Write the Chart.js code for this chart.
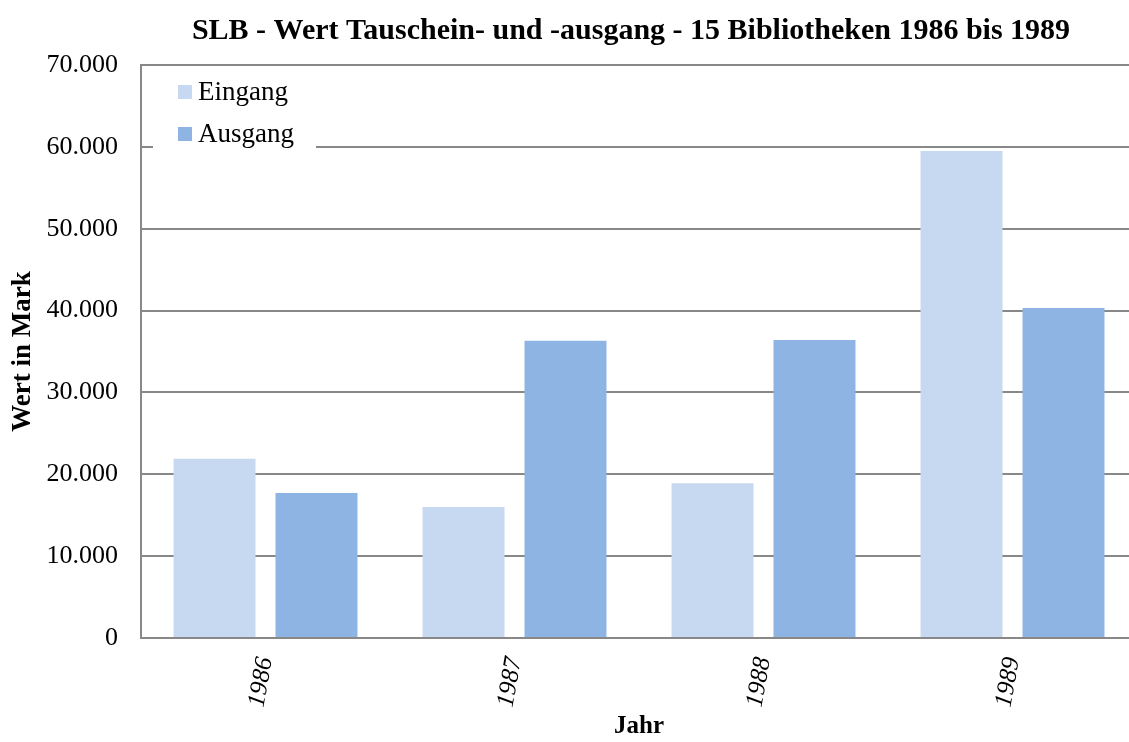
<!DOCTYPE html>
<html><head><meta charset="utf-8">
<script src="https://cdn.jsdelivr.net/npm/chart.js@4/dist/chart.umd.min.js"></script>
<style>html,body{margin:0;padding:0;background:#fff;overflow:hidden}#wrap{width:1129px;height:742px;overflow:hidden;position:relative}canvas{position:absolute;left:0;top:0}</style>
</head><body><div id="wrap"><canvas id="c" width="1138" height="742"></canvas></div>
<script>
const categories = ["1986", "1987", "1988", "1989"];
const eingang = [21900, 16000, 18900, 59500];
const ausgang = [17700, 36300, 36400, 40300];
const seriesNames = ["Eingang", "Ausgang"];
const seriesColors = ["#C6D9F0", "#8EB4E3"];
const yTicks = [0, 10000, 20000, 30000, 40000, 50000, 60000, 70000];
const titleText = "SLB - Wert Tauschein- und -ausgang - 15 Bibliotheken 1986 bis 1989";
const yTitle = "Wert in Mark";
const xTitle = "Jahr";

const SERIF = "'Liberation Serif', 'Times New Roman', serif";

const titleAndLegend = {
  id: 'titleAndLegend',
  afterDatasetsDraw(chart) {
    const ctx = chart.ctx;
    ctx.save();
    // legend inside plot area
    ctx.fillStyle = '#fff';
    ctx.fillRect(153, 70, 163, 84);
    ctx.font = "27px " + SERIF;
    ctx.textBaseline = 'alphabetic';
    ctx.textAlign = 'left';
    chart.data.datasets.forEach((ds, i) => {
      const y = 92 + i * 42;
      ctx.fillStyle = ds.backgroundColor;
      ctx.fillRect(178, y - 7, 14, 14);
      ctx.fillStyle = '#000';
      ctx.fillText(ds.label, 198, y + 8);
    });
    // title
    ctx.font = "bold 30px " + SERIF;
    ctx.textAlign = 'center';
    ctx.textBaseline = 'middle';
    ctx.fillText(titleText, 631, 31);
    ctx.restore();
  }
};

new Chart(document.getElementById('c'), {
  type: 'bar',
  data: {
    labels: categories,
    datasets: [
      { label: seriesNames[0], data: eingang, backgroundColor: seriesColors[0] },
      { label: seriesNames[1], data: ausgang, backgroundColor: seriesColors[1] }
    ]
  },
  options: {
    responsive: false,
    animation: false,
    devicePixelRatio: 1,
    layout: { padding: { left: 0, right: 1, top: 65, bottom: 0 } },
    datasets: { bar: { categoryPercentage: 0.819, barPercentage: 0.804 } },
    plugins: {
      legend: { display: false },
      tooltip: { enabled: false },
      title: { display: false }
    },
    scales: {
      x: {
        afterFit(s) { s.height = 104; },
        grid: { display: false, drawTicks: false },
        border: { display: true, color: '#888888', width: 2 },
        ticks: {
          color: '#000', font: { family: SERIF, size: 25, style: 'italic' },
          minRotation: 80, maxRotation: 80, padding: 17
        },
        title: {
          display: true, text: xTitle, color: '#000',
          font: { family: SERIF, size: 25, weight: 'bold' },
          padding: { top: 0, bottom: 0 }
        }
      },
      y: {
        min: 0, max: 70000,
        afterFit(s) { s.width = 141; },
        afterBuildTicks(s) { s.ticks = yTicks.map(v => ({ value: v })); },
        grid: { color: '#888888', lineWidth: 2, drawTicks: false },
        border: { display: true, color: '#888888', width: 2 },
        ticks: {
          color: '#000', padding: 23,
          font: { family: SERIF, size: 26 },
          callback: v => v === 0 ? '0' : v.toLocaleString('de-DE')
        },
        title: {
          display: true, text: yTitle, color: '#000',
          font: { family: SERIF, size: 27, weight: 'bold' },
          padding: { top: 7, bottom: 0 }
        }
      }
    }
  },
  plugins: [titleAndLegend]
});
</script>
</body></html>
